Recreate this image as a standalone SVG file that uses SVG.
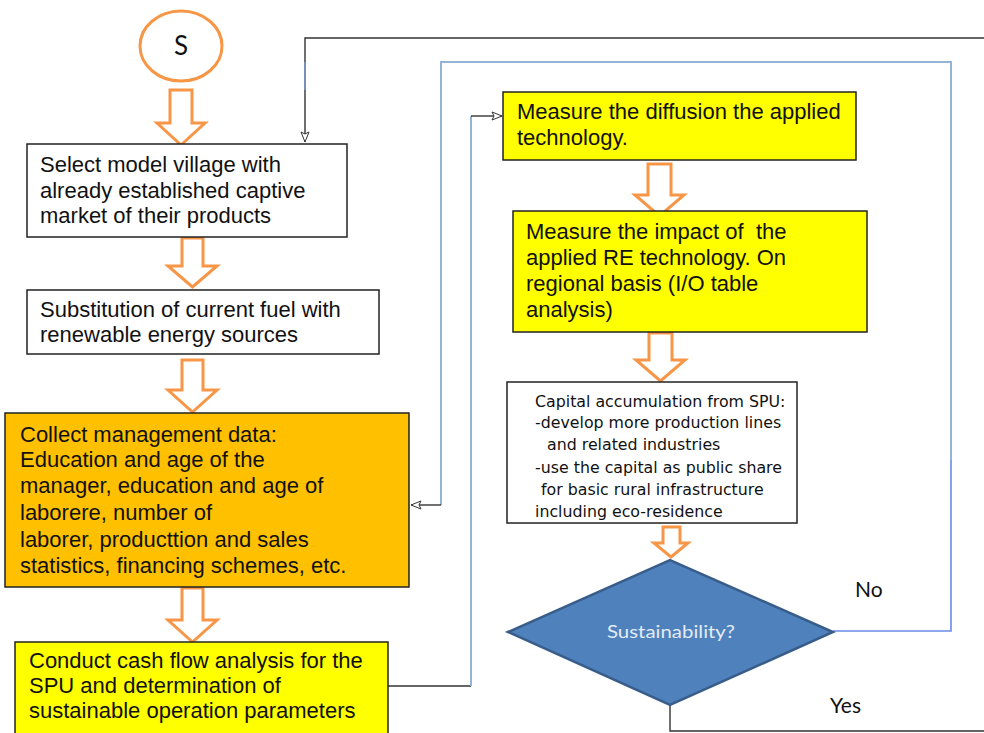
<svg xmlns="http://www.w3.org/2000/svg" width="984" height="733" viewBox="0 0 984 733">
<defs>
<style>
.box{stroke:#222;stroke-width:1.5}
.w{fill:#fff}.y{fill:#ffff00}.o{fill:#ffc000}
.arw{fill:#fff;stroke:#f79646;stroke-width:3;stroke-linejoin:miter}
.t{font-family:"Liberation Sans",Arial,sans-serif;font-size:22px;fill:#111}
.t2{font-family:"DejaVu Sans",Verdana,sans-serif;font-size:15.8px;fill:#111}
.lbl{font-family:Lato,"Open Sans",sans-serif;font-size:21px;fill:#111}
.blk{fill:none;stroke:#333;stroke-width:1.4}
.blu{fill:none;stroke:#95b3d7;stroke-width:2}
.blu2{fill:none;stroke:#6a8ae8;stroke-width:1.6}
</style>
<marker id="oa" viewBox="0 0 12 10" refX="11" refY="5" markerWidth="12" markerHeight="10" markerUnits="userSpaceOnUse" orient="auto">
<path d="M1,1 L11,5 L1,9 L3,5 Z" fill="#fff" stroke="#333" stroke-width="1"/>
</marker>
</defs>

<g id="connectors">
<polyline class="blk" points="984,38 305,38 305,142" marker-end="url(#oa)"/>
<line x1="305" y1="62" x2="305" y2="90" stroke="#7a9bd0" stroke-width="1.5"/>
<polyline class="blk" points="388,686 471,686"/>
<polyline class="blu" points="471,686 471,116"/>
<polyline class="blk" points="471,116 502,116" marker-end="url(#oa)"/>
<polyline class="blu2" points="833,631 951,631 951,460"/>
<polyline class="blu" points="951,460 951,62 441,62 441,505"/>
<polyline class="blk" points="441,505 411,505" marker-end="url(#oa)"/>
<polyline class="blk" points="670,705 670,731 984,731"/>
<text class="lbl" x="855" y="597">No</text>
<text class="lbl" x="830" y="713">Yes</text>
</g>

<g id="start">
<ellipse cx="181" cy="46" rx="41" ry="35" fill="#fff" stroke="#f79646" stroke-width="3"/>
<text x="181" y="55" text-anchor="middle" font-family="Lato,'Open Sans',sans-serif" font-size="26" fill="#111">S</text>
</g>

<g id="arrows">
<path class="arw" d="M170,90 H192 V123 H205 L181,145 L157,123 H170 Z"/>
<path class="arw" d="M182,238 H203 V266 H217 L192.5,287 L168,266 H182 Z"/>
<path class="arw" d="M182,360 H203 V390 H217 L192.5,412 L168,390 H182 Z"/>
<path class="arw" d="M182,588 H203 V620 H217 L192.5,642 L168,620 H182 Z"/>
<path class="arw" d="M648,164 H671 V195 H684 L659.5,216 L635,195 H648 Z"/>
<path class="arw" d="M649,333 H672 V360 H685 L660.5,381 L636,360 H649 Z"/>
<path class="arw" d="M663,527 H680 V543 H688 L671,557 L654,543 H663 Z"/>
</g>

<g id="n1">
<rect class="box w" x="27" y="144" width="320" height="93"/>
<text class="t" x="40" y="172">Select model village with</text>
<text class="t" x="40" y="198">already established captive</text>
<text class="t" x="40" y="223">market of their products</text>
</g>

<g id="n2">
<rect class="box w" x="27" y="290" width="352" height="64"/>
<text class="t" x="40" y="317">Substitution of current fuel with</text>
<text class="t" x="40" y="342">renewable energy sources</text>
</g>

<g id="n3">
<rect class="box o" x="5" y="413" width="404" height="174"/>
<text class="t" x="20" y="442">Collect management data:</text>
<text class="t" x="20" y="467">Education and age of the</text>
<text class="t" x="20" y="493">manager, education and age of</text>
<text class="t" x="20" y="520">laborere, number of</text>
<text class="t" x="20" y="547">laborer, producttion and sales</text>
<text class="t" x="20" y="573">statistics, financing schemes, etc.</text>
</g>

<g id="n4">
<rect class="box y" x="15" y="642" width="373" height="100"/>
<text class="t" x="29" y="668">Conduct cash flow analysis for the</text>
<text class="t" x="29" y="693">SPU and determination of</text>
<text class="t" x="29" y="718">sustainable operation parameters</text>
</g>

<g id="n5">
<rect class="box y" x="503" y="92" width="353" height="68"/>
<text class="t" x="517" y="119">Measure the diffusion the applied</text>
<text class="t" x="517" y="145">technology.</text>
</g>

<g id="n6">
<rect class="box y" x="513" y="211" width="354" height="121"/>
<text class="t" x="526" y="239" xml:space="preserve">Measure the impact of  the</text>
<text class="t" x="526" y="265">applied RE technology. On</text>
<text class="t" x="526" y="291">regional basis (I/O table</text>
<text class="t" x="526" y="317">analysis)</text>
</g>

<g id="n7">
<rect class="box w" x="507" y="382" width="290" height="141"/>
<text class="t2" x="535" y="407">Capital accumulation from SPU:</text>
<text class="t2" x="535" y="428">-develop more production lines</text>
<text class="t2" x="547" y="450">and related industries</text>
<text class="t2" x="535" y="473">-use the capital as public share</text>
<text class="t2" x="541" y="495">for basic rural infrastructure</text>
<text class="t2" x="535" y="517">including eco-residence</text>
</g>

<g id="n8">
<polygon points="508,632 670,560 833,632 670,705" fill="#4f81bd" stroke="#385d8a" stroke-width="2.5"/>
<text x="671" y="638" text-anchor="middle" font-family="Lato,'Open Sans',sans-serif" font-size="17" fill="#e4ecf6" textLength="128" lengthAdjust="spacingAndGlyphs">Sustainability?</text>
</g>
</svg>
